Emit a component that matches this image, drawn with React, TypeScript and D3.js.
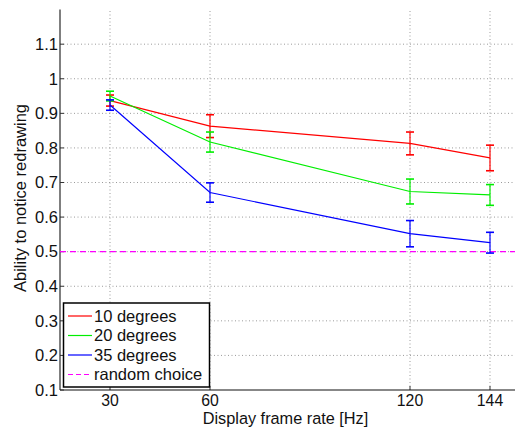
import * as d3 from "d3";

const rates = [30, 60, 120, 144];
const yTicks = [0.1, 0.2, 0.3, 0.4, 0.5, 0.6, 0.7, 0.8, 0.9, 1, 1.1];

const deg10 = [0.937, 0.863, 0.813, 0.771];
const deg10Err = [0.016, 0.033, 0.033, 0.037];
const deg20 = [0.95, 0.817, 0.674, 0.664];
const deg20Err = [0.014, 0.029, 0.036, 0.03];
const deg35 = [0.924, 0.671, 0.552, 0.526];
const deg35Err = [0.015, 0.028, 0.038, 0.03];
const chance = 0.5;

const seriesNames = ["10 degrees", "20 degrees", "35 degrees"];
const seriesColors = ["#ff0000", "#00ee00", "#0000ff"];

const W = 515;
const H = 428;
const font = "'Liberation Sans', Arial, Helvetica, sans-serif";

export default function App() {
  const x = d3.scaleLinear().domain([15, 151.5]).range([60, 515]);
  const y = d3.scaleLinear().domain([0.1, 1.2]).range([390, 9.6]);

  const series = [
    { vals: deg10, err: deg10Err },
    { vals: deg20, err: deg20Err },
    { vals: deg35, err: deg35Err },
  ];

  const line = d3
    .line<number>()
    .x((_, i) => x(rates[i]))
    .y((d) => y(d));

  const cap = 4;

  return (
    <svg
      width={W}
      height={H}
      style={{ position: "absolute", left: 0, top: 0, background: "#fff" }}
      fontFamily={font}
    >
      {/* grid */}
      <g stroke="#9a9a9a" strokeWidth={1} strokeDasharray="1,2.5">
        {yTicks.slice(1).map((t) => (
          <line key={"gy" + t} x1={x(15)} x2={W} y1={y(t)} y2={y(t)} />
        ))}
        {rates.map((r) => (
          <line key={"gx" + r} x1={x(r)} x2={x(r)} y1={y(0.1)} y2={y(1.2)} />
        ))}
      </g>

      {/* axes */}
      <line x1={x(15)} x2={x(15)} y1={y(1.2)} y2={y(0.1)} stroke="#555" strokeWidth={1.5} />
      <line x1={x(15)} x2={W} y1={y(0.1)} y2={y(0.1)} stroke="#111" strokeWidth={1.2} />
      {yTicks.map((t) => (
        <g key={"ty" + t}>
          <line x1={x(15)} x2={x(15) + 4} y1={y(t)} y2={y(t)} stroke="#333" />
          <text
            x={58}
            y={y(t)}
            dy="0.35em"
            textAnchor="end"
            fontSize={16.5}
            fill="#111"
          >
            {d3.format("")(t)}
          </text>
        </g>
      ))}
      {rates.map((r) => (
        <g key={"tx" + r}>
          <line x1={x(r)} x2={x(r)} y1={y(0.1)} y2={y(0.1) - 4} stroke="#333" />
          <text x={x(r)} y={405.5} textAnchor="middle" fontSize={15.8} fill="#111">
            {r}
          </text>
        </g>
      ))}

      {/* chance level */}
      <line
        x1={x(15)}
        x2={W}
        y1={y(chance)}
        y2={y(chance)}
        stroke="#ff00ff"
        strokeWidth={1.3}
        strokeDasharray="6,4"
      />

      {/* series */}
      {series.map((s, k) => (
        <g key={"s" + k} stroke={seriesColors[k]} fill="none" strokeWidth={1.2}>
          <path d={line(s.vals) || ""} />
          {s.vals.map((v, i) => {
            const cx = x(rates[i]);
            const top = y(v + s.err[i]);
            const bot = y(v - s.err[i]);
            return (
              <g key={i}>
                <line x1={cx} x2={cx} y1={top} y2={bot} />
                <line x1={cx - cap} x2={cx + cap} y1={top} y2={top} strokeWidth={1.6} />
                <line x1={cx - cap} x2={cx + cap} y1={bot} y2={bot} strokeWidth={1.6} />
              </g>
            );
          })}
        </g>
      ))}

      {/* axis labels */}
      <text x={285.5} y={423.5} textAnchor="middle" fontSize={16.3} fill="#111">
        Display frame rate [Hz]
      </text>
      <text
        transform="translate(26,198) rotate(-90)"
        textAnchor="middle"
        fontSize={16.5}
        fill="#111"
      >
        Ability to notice redrawing
      </text>

      {/* legend */}
      <g>
        <rect x={63.5} y={303} width={146} height={84} fill="#fff" stroke="#000" strokeWidth={1.5} />
        {seriesNames.map((n, k) => (
          <g key={"l" + k}>
            <line x1={68} x2={92} y1={316 + k * 19.5} y2={316 + k * 19.5} stroke={seriesColors[k]} strokeWidth={1.2} />
            <text x={94} y={316 + k * 19.5} dy="0.35em" fontSize={16.5} fill="#111">
              {n}
            </text>
          </g>
        ))}
        <line x1={68} x2={92} y1={374.5} y2={374.5} stroke="#ff00ff" strokeWidth={1.2} strokeDasharray="5,3" />
        <text x={94} y={374.5} dy="0.35em" fontSize={16.5} fill="#111">
          random choice
        </text>
      </g>
    </svg>
  );
}
